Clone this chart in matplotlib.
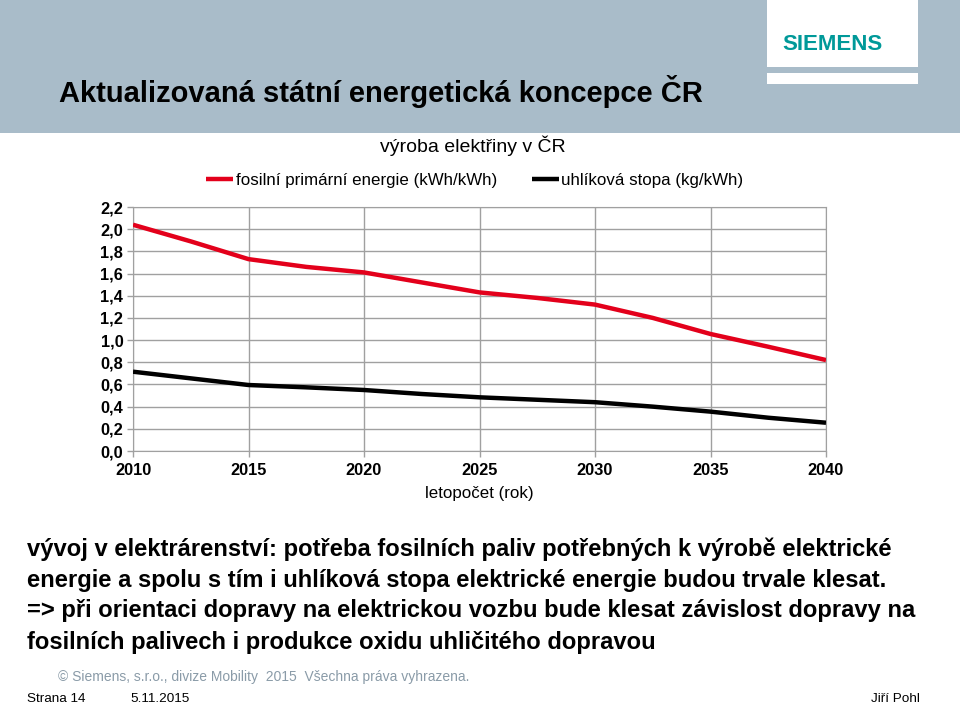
import matplotlib
matplotlib.use('Agg')
import matplotlib.pyplot as plt
from matplotlib.patches import Rectangle
from matplotlib.ticker import FuncFormatter

# data
years = [2010, 2012.5, 2015, 2017.5, 2020, 2022.5, 2025, 2027.5, 2030, 2032.5, 2035, 2037.5, 2040]
fossil = [2.04, 1.89, 1.73, 1.66, 1.61, 1.52, 1.43, 1.38, 1.32, 1.20, 1.055, 0.94, 0.82]
carbon = [0.715, 0.655, 0.595, 0.574, 0.55, 0.514, 0.484, 0.462, 0.44, 0.40, 0.355, 0.30, 0.255]
x_ticks = [2010, 2015, 2020, 2025, 2030, 2035, 2040]
y_ticks = [0.0, 0.2, 0.4, 0.6, 0.8, 1.0, 1.2, 1.4, 1.6, 1.8, 2.0, 2.2]

title = 'Aktualizovaná státní energetická koncepce ČR'
chart_title = 'výroba elektřiny v ČR'
lbl_fossil = 'fosilní primární energie (kWh/kWh)'
lbl_carbon = 'uhlíková stopa (kg/kWh)'
xlabel = 'letopočet (rok)'
body = ['vývoj v elektrárenství: potřeba fosilních paliv potřebných k výrobě elektrické',
        'energie a spolu s tím i uhlíková stopa elektrické energie budou trvale klesat.',
        '=> při orientaci dopravy na elektrickou vozbu bude klesat závislost dopravy na',
        'fosilních palivech i produkce oxidu uhličitého dopravou']

SANS = ['Liberation Sans', 'DejaVu Sans']
W, H = 960, 705

fig = plt.figure(figsize=(9.6, 7.05), dpi=100)
fig.patch.set_facecolor('white')

def fx(px):
    return px / W

def fy(py):
    return 1 - py / H

# header band + logo box
fig.add_artist(Rectangle((0, fy(133)), 1, 133 / H, transform=fig.transFigure,
                         facecolor='#A9BCC9', edgecolor='none', zorder=0))
fig.add_artist(Rectangle((fx(767), fy(67)), 151 / W, 67 / H, transform=fig.transFigure,
                         facecolor='white', edgecolor='none', zorder=1))
fig.add_artist(Rectangle((fx(767), fy(84)), 151 / W, 11 / H, transform=fig.transFigure,
                         facecolor='white', edgecolor='none', zorder=1))
fig.text(fx(832), fy(44), 'SIEMENS', color='#009999', fontsize=16, fontweight='bold',
         family=SANS, ha='center', va='center')
fig.text(fx(59), fy(92), title, fontsize=21, fontweight='bold', family=SANS,
         ha='left', va='center')

# chart
ax = fig.add_axes([fx(133), fy(451), (826 - 133) / W, (451 - 207) / H])
ax.plot(years, fossil, color='#E3001B', lw=3.2, solid_capstyle='butt', label=lbl_fossil, zorder=3)
ax.plot(years, carbon, color='black', lw=3.2, solid_capstyle='butt', label=lbl_carbon, zorder=3)
ax.set_xlim(2010, 2040)
ax.set_ylim(0, 2.2)
ax.set_xticks(x_ticks)
ax.set_yticks(y_ticks)
ax.yaxis.set_major_formatter(FuncFormatter(lambda v, p: ('%.1f' % v).replace('.', ',')))
ax.grid(True, color='#A0A0A0', lw=1)
ax.set_axisbelow(True)
for s in ax.spines.values():
    s.set_color('#A0A0A0')
ax.tick_params(colors='#A0A0A0', labelcolor='black', length=4, width=1)
ax.tick_params(axis='x', pad=4.5)
ax.tick_params(axis='y', pad=3)
for t in ax.get_xticklabels() + ax.get_yticklabels():
    t.set_fontweight('bold')
    t.set_fontsize(11.8)
    t.set_family(SANS)
ax.set_xlabel(xlabel, fontsize=12.2, family=SANS, labelpad=6)

fig.text(fx(473), fy(146), chart_title, fontsize=14, family=SANS, ha='center', va='center')
leg = fig.legend(loc='center', bbox_to_anchor=(fx(475), fy(180)), ncol=2, frameon=False,
                 handlelength=1.6, handletextpad=0.12, columnspacing=2.1,
                 prop={'family': SANS, 'size': 12.2})

# body text
for i, line in enumerate(body):
    fig.text(fx(27), fy(549 + 31 * i), line, fontsize=17.1, fontweight='bold',
             family=SANS, ha='left', va='center')

# footer
fig.text(fx(58), fy(677), '© Siemens, s.r.o., divize Mobility  2015  Všechna práva vyhrazena.',
         color='#8A9BA8', fontsize=10, family=SANS, ha='left', va='center')
fig.text(fx(27), fy(699), 'Strana 14', fontsize=9.7, family=SANS, ha='left', va='center')
fig.text(fx(130), fy(699), '5.11.2015', fontsize=9.7, family=SANS, ha='left', va='center')
fig.text(fx(920), fy(699), 'Jiří Pohl', fontsize=9.7, family=SANS, ha='right', va='center')

fig.savefig('out.png', dpi=100)
